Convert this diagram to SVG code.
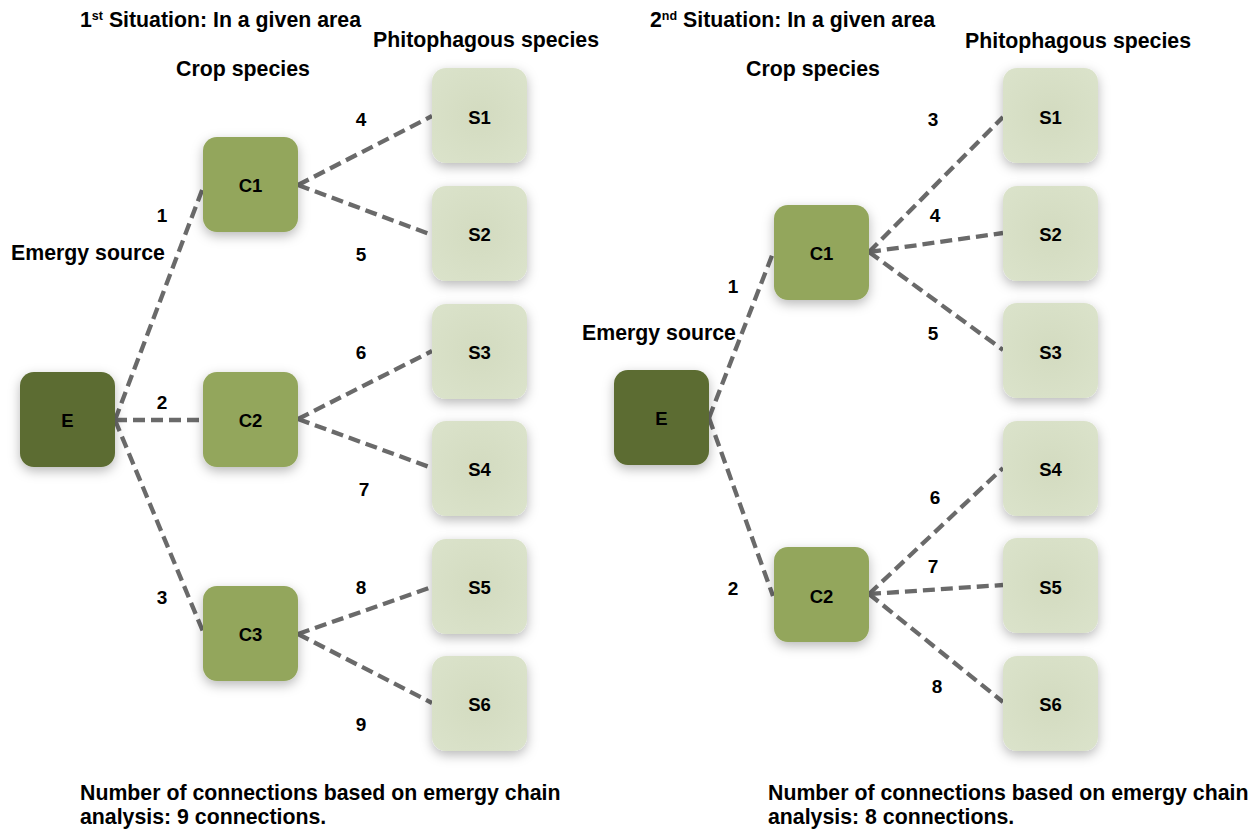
<svg xmlns="http://www.w3.org/2000/svg" width="1259" height="829" viewBox="0 0 1259 829">
  <defs>
    <filter id="shadow" x="-30%" y="-30%" width="160%" height="170%">
      <feDropShadow dx="0" dy="4" stdDeviation="6" flood-color="#000" flood-opacity="0.28"/>
    </filter>
    <radialGradient id="sfill" cx="50%" cy="50%" r="70%">
      <stop offset="0" stop-color="#d3dbc0"/>
      <stop offset="1" stop-color="#dbe3cb"/>
    </radialGradient>
  </defs>
  <style>
    text { font-family: "Liberation Sans", Arial, Helvetica, sans-serif; font-weight: bold; fill: #000; }
    .hd { font-size: 21.3px; }
    .lbl { font-size: 18.5px; text-anchor: middle; }
    .num { font-size: 19px; text-anchor: middle; }
    .sup { font-size: 12.5px; }
    .src { fill: #5c6c31; filter: url(#shadow); }
    .crop { fill: #93a65c; filter: url(#shadow); }
    .sp { fill: url(#sfill); filter: url(#shadow); }
    .link { stroke: #6a6a6a; stroke-width: 4.3; stroke-dasharray: 12 6; fill: none; }
  </style>
  <rect width="1259" height="829" fill="#fff"/>

  <!-- connectors -->
  <g id="connectors" class="link">
    <!-- first situation -->
    <line x1="115" y1="420" x2="204" y2="185"/>
    <line x1="115" y1="420" x2="204" y2="420"/>
    <line x1="115" y1="420" x2="204" y2="634"/>
    <line x1="298" y1="185" x2="432" y2="116"/>
    <line x1="298" y1="185" x2="432" y2="235"/>
    <line x1="298" y1="419" x2="432" y2="351"/>
    <line x1="298" y1="419" x2="432" y2="468"/>
    <line x1="298" y1="634" x2="432" y2="587"/>
    <line x1="298" y1="634" x2="432" y2="703"/>
    <!-- second situation -->
    <line x1="709" y1="418" x2="773" y2="253"/>
    <line x1="709" y1="418" x2="773" y2="596"/>
    <line x1="869" y1="252" x2="1003" y2="117"/>
    <line x1="869" y1="252" x2="1003" y2="233"/>
    <line x1="869" y1="252" x2="1003" y2="350"/>
    <line x1="869" y1="594" x2="1003" y2="468"/>
    <line x1="869" y1="594" x2="1003" y2="585"/>
    <line x1="869" y1="594" x2="1003" y2="702"/>
  </g>

  <!-- first situation nodes -->
  <g id="a-E"><rect class="src" x="20" y="372" width="95" height="95" rx="14"/><text class="lbl" x="67.5" y="426.5">E</text></g>
  <g id="a-C1"><rect class="crop" x="203" y="137" width="95" height="95" rx="14"/><text class="lbl" x="250.5" y="191.5">C1</text></g>
  <g id="a-C2"><rect class="crop" x="203" y="372" width="95" height="95" rx="14"/><text class="lbl" x="250.5" y="426.5">C2</text></g>
  <g id="a-C3"><rect class="crop" x="203" y="586" width="95" height="95" rx="14"/><text class="lbl" x="250.5" y="640.5">C3</text></g>
  <g id="a-S1"><rect class="sp" x="432" y="68" width="95" height="95" rx="14"/><text class="lbl" x="479.5" y="123.5">S1</text></g>
  <g id="a-S2"><rect class="sp" x="432" y="186" width="95" height="95" rx="14"/><text class="lbl" x="479.5" y="240.5">S2</text></g>
  <g id="a-S3"><rect class="sp" x="432" y="304" width="95" height="95" rx="14"/><text class="lbl" x="479.5" y="358.5">S3</text></g>
  <g id="a-S4"><rect class="sp" x="432" y="421" width="95" height="95" rx="14"/><text class="lbl" x="479.5" y="475.5">S4</text></g>
  <g id="a-S5"><rect class="sp" x="432" y="539" width="95" height="95" rx="14"/><text class="lbl" x="479.5" y="593.5">S5</text></g>
  <g id="a-S6"><rect class="sp" x="432" y="656" width="95" height="95" rx="14"/><text class="lbl" x="479.5" y="710.5">S6</text></g>

  <!-- second situation nodes -->
  <g id="b-E"><rect class="src" x="614" y="370" width="95" height="95" rx="14"/><text class="lbl" x="661.5" y="424.5">E</text></g>
  <g id="b-C1"><rect class="crop" x="774" y="205" width="95" height="95" rx="14"/><text class="lbl" x="821.5" y="259.5">C1</text></g>
  <g id="b-C2"><rect class="crop" x="774" y="547" width="95" height="95" rx="14"/><text class="lbl" x="821.5" y="602.5">C2</text></g>
  <g id="b-S1"><rect class="sp" x="1003" y="68" width="95" height="95" rx="14"/><text class="lbl" x="1050.5" y="123.5">S1</text></g>
  <g id="b-S2"><rect class="sp" x="1003" y="186" width="95" height="95" rx="14"/><text class="lbl" x="1050.5" y="240.5">S2</text></g>
  <g id="b-S3"><rect class="sp" x="1003" y="303" width="95" height="95" rx="14"/><text class="lbl" x="1050.5" y="358.5">S3</text></g>
  <g id="b-S4"><rect class="sp" x="1003" y="421" width="95" height="95" rx="14"/><text class="lbl" x="1050.5" y="475.5">S4</text></g>
  <g id="b-S5"><rect class="sp" x="1003" y="538" width="95" height="95" rx="14"/><text class="lbl" x="1050.5" y="593.5">S5</text></g>
  <g id="b-S6"><rect class="sp" x="1003" y="656" width="95" height="95" rx="14"/><text class="lbl" x="1050.5" y="710.5">S6</text></g>

  <!-- connection numbers -->
  <g id="numbers">
    <text class="num" x="162" y="222">1</text>
    <text class="num" x="162" y="409">2</text>
    <text class="num" x="162" y="604">3</text>
    <text class="num" x="361" y="126">4</text>
    <text class="num" x="361" y="261">5</text>
    <text class="num" x="361" y="359">6</text>
    <text class="num" x="364" y="496">7</text>
    <text class="num" x="361" y="594">8</text>
    <text class="num" x="361" y="731">9</text>

    <text class="num" x="733" y="293">1</text>
    <text class="num" x="733" y="595">2</text>
    <text class="num" x="933" y="126">3</text>
    <text class="num" x="935" y="222">4</text>
    <text class="num" x="933" y="340">5</text>
    <text class="num" x="935" y="504">6</text>
    <text class="num" x="933" y="573">7</text>
    <text class="num" x="937" y="693">8</text>
  </g>

  <!-- headings and captions -->
  <g id="captions" class="hd">
    <text x="80" y="27">1<tspan class="sup" dy="-7">st</tspan><tspan dy="7"> Situation: In a given area</tspan></text>
    <text x="373" y="47">Phitophagous species</text>
    <text x="243" y="76" text-anchor="middle">Crop species</text>
    <text x="11" y="260">Emergy source</text>
    <text x="80" y="800">Number of connections based on emergy chain</text>
    <text x="80" y="824">analysis: 9 connections.</text>

    <text x="650" y="27">2<tspan class="sup" dy="-7">nd</tspan><tspan dy="7"> Situation: In a given area</tspan></text>
    <text x="965" y="48">Phitophagous species</text>
    <text x="813" y="76" text-anchor="middle">Crop species</text>
    <text x="582" y="340">Emergy source</text>
    <text x="768" y="800">Number of connections based on emergy chain</text>
    <text x="768" y="824">analysis: 8 connections.</text>
  </g>
</svg>
